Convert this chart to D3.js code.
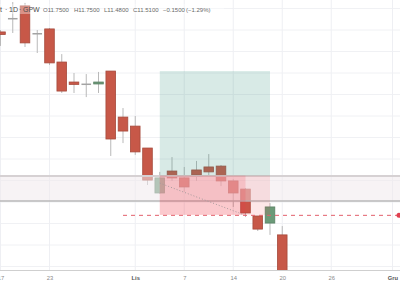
<!DOCTYPE html>
<html><head><meta charset="utf-8">
<script src="https://cdn.jsdelivr.net/npm/d3@7"></script>
<style>html,body{margin:0;padding:0;background:#fff;overflow:hidden}</style>
</head><body><svg id="c" width="400" height="284"></svg>
<script>
// ---- data ----
const dates = ["2025-10-17","2025-10-20","2025-10-21","2025-10-22","2025-10-23","2025-10-24","2025-10-27","2025-10-28","2025-10-29","2025-10-30","2025-10-31","2025-11-03","2025-11-04","2025-11-05","2025-11-06","2025-11-07","2025-11-10","2025-11-12","2025-11-13","2025-11-14","2025-11-17","2025-11-18","2025-11-19","2025-11-20"];
const opens  = [12.691,12.756,12.812,12.686,12.705,12.551,12.458,12.451,12.449,12.509,12.295,12.253,12.151,11.942,12.044,12.012,12.049,12.063,12.067,11.998,11.960,11.835,11.802,11.747];
const highs  = [12.700,12.830,12.826,12.700,12.709,12.588,12.500,12.495,12.505,12.509,12.337,12.300,12.151,12.040,12.109,12.063,12.091,12.123,12.072,12.007,11.965,11.835,11.895,11.788];
const lows   = [12.626,12.686,12.621,12.593,12.537,12.407,12.407,12.388,12.407,12.114,12.174,12.119,11.979,11.937,11.998,11.947,11.998,12.021,11.974,11.877,11.830,11.765,11.747,11.480];
const closes = [12.679,12.756,12.640,12.686,12.547,12.416,12.447,12.451,12.458,12.193,12.230,12.133,12.002,12.012,12.012,11.970,12.026,12.040,11.998,11.942,11.849,11.774,11.877,11.510];
const tickIdx    = [0,4,11,15,19,23,27,32];
const tickLabels = ["17","23","Lis","7","14","20","26","Gru"];
const gridPrices = [11.6,11.7,11.8,11.9,12.0,12.1,12.2,12.3,12.4,12.5,12.6,12.7,12.8];
const positionTool = {start:13, end:22, hitIndex:20, entry:12.023, stop:11.840, target:12.509};
const zoneBand = {top:12.023, bottom:11.905};
const exitPath = {fromIndex:13, fromPrice:11.988, toIndex:19.9, toPrice:11.840};
const alertLine = {fromIndex:10, toIndex:33, price:11.838};
const legendItems = ["t","·","1D","·","GPW","O11.7500","H11.7500","L11.4800","C11.5100","\u22120.1500","(\u22121.29%)"];

// ---- chart ----
const W = 400, H = 284, plotBottom = 270;
const svg = d3.select("#c");
const x = d3.scaleLinear().domain([0, 32]).range([0.5, 392.5]);
const y = d3.scaleLinear().domain([11.6, 12.8]).range([266.5, 8.5]);
const bw = 9.6;

svg.append("defs").append("clipPath").attr("id","plotClip")
  .append("rect").attr("x",0).attr("y",0).attr("width",W).attr("height",plotBottom);
const plot = svg.append("g").attr("clip-path","url(#plotClip)");

// grid
plot.selectAll(".hg").data(gridPrices).join("line")
  .attr("x1",0).attr("x2",W).attr("y1",d=>y(d)).attr("y2",d=>y(d))
  .attr("stroke","#f0f1f4").attr("stroke-width",1);
plot.selectAll(".vg").data(tickIdx).join("line")
  .attr("x1",d=>x(d)).attr("x2",d=>x(d)).attr("y1",0).attr("y2",plotBottom)
  .attr("stroke","#eeeff3").attr("stroke-width",1);

// candles
const candles = dates.map((d,i)=>({i, o:opens[i], h:highs[i], l:lows[i], c:closes[i]}));
const up = "#6b9a78", down = "#c75848", neutral = "#a3a3a3";
const col = d => d.c > d.o ? up : (d.c < d.o ? down : neutral);
const g = plot.append("g");
g.selectAll(".wick").data(candles).join("line")
  .attr("x1",d=>x(d.i)).attr("x2",d=>x(d.i))
  .attr("y1",d=>y(d.h)).attr("y2",d=>y(d.l))
  .attr("stroke","#b9b9b9").attr("stroke-width",1);
g.selectAll(".body").data(candles).join("rect")
  .attr("x",d=>x(d.i)-bw/2)
  .attr("y",d=>y(Math.max(d.o,d.c)))
  .attr("width",bw)
  .attr("height",d=>Math.max(1.5, Math.abs(y(d.o)-y(d.c))))
  .attr("fill",col)
  .attr("stroke",d=>d.c===d.o ? "none" : d3.color(col(d)).darker(0.5))
  .attr("stroke-width",0.8);

// horizontal band (rectangle drawing)
plot.append("rect").attr("x",0).attr("width",W)
  .attr("y",y(zoneBand.top)).attr("height",y(zoneBand.bottom)-y(zoneBand.top))
  .attr("fill","rgba(240,234,236,0.55)");
plot.append("line").attr("x1",0).attr("x2",W)
  .attr("y1",y(zoneBand.top)+0.5).attr("y2",y(zoneBand.top)+0.5)
  .attr("stroke","#d6d1d3").attr("stroke-width",2);
plot.append("line").attr("x1",0).attr("x2",W)
  .attr("y1",y(zoneBand.bottom)).attr("y2",y(zoneBand.bottom))
  .attr("stroke","#b9b9b9").attr("stroke-width",1.5);

// position tool
const p = positionTool;
plot.append("rect").attr("x",x(p.start)).attr("width",x(p.end)-x(p.start))
  .attr("y",y(p.target)).attr("height",y(p.entry)-y(p.target))
  .attr("fill","rgba(60,150,130,0.2)");
plot.append("rect").attr("x",x(p.start)).attr("width",x(p.end)-x(p.start))
  .attr("y",y(p.entry)).attr("height",y(p.stop)-y(p.entry))
  .attr("fill","rgba(242,54,69,0.12)");
plot.append("rect").attr("x",x(p.start)).attr("width",x(p.hitIndex)-x(p.start))
  .attr("y",y(p.entry)).attr("height",y(p.stop)-y(p.entry))
  .attr("fill","rgba(242,54,69,0.17)");
plot.append("line")
  .attr("x1",x(exitPath.fromIndex)).attr("y1",y(exitPath.fromPrice))
  .attr("x2",x(exitPath.toIndex)).attr("y2",y(exitPath.toPrice))
  .attr("stroke","#a89a9c").attr("stroke-width",1).attr("stroke-dasharray","1,2");

// alert / price line
plot.append("line")
  .attr("x1",x(alertLine.fromIndex)).attr("x2",W)
  .attr("y1",y(alertLine.price)).attr("y2",y(alertLine.price))
  .attr("stroke","#e2606c").attr("stroke-width",1).attr("stroke-dasharray","4,4");
plot.append("circle").attr("cx",W-1).attr("cy",y(alertLine.price)).attr("r",2.5).attr("fill","#e04050");

// time axis
svg.append("line").attr("x1",0).attr("x2",W).attr("y1",plotBottom+0.5).attr("y2",plotBottom+0.5)
  .attr("stroke","#cfcfcf").attr("stroke-width",1.2);
const ax = svg.append("g").attr("transform",`translate(0,${plotBottom})`)
  .call(d3.axisBottom(x).tickValues(tickIdx).tickFormat((d,i)=>tickLabels[i]).tickSize(0).tickPadding(6));
ax.select(".domain").remove();
ax.selectAll("text")
  .attr("font-family","Liberation Sans, Arial, sans-serif")
  .attr("font-size",5.8)
  .attr("fill",(d,i)=>/[A-Za-z]/.test(tickLabels[i]) ? "#555" : "#8a8a8a")
  .attr("font-weight",(d,i)=>/[A-Za-z]/.test(tickLabels[i]) ? "bold" : "normal");

// legend
const legendX = [0,5,9,19,23,43,74,104,133,163,186];
const leg = svg.append("g");
leg.append("rect").attr("x",0).attr("y",4).attr("width",224).attr("height",10).attr("fill","rgba(255,255,255,0.35)");
leg.selectAll("text").data(legendItems).join("text")
  .attr("x",(d,i)=>legendX[i]).attr("y",11.5)
  .attr("font-family","Liberation Sans, Arial, sans-serif")
  .attr("font-size",(d,i)=> i<5 ? 7 : 6)
  .attr("fill",(d,i)=> i<5 ? "#4a4a4a" : "#6a6a6a")
  .text(d=>d);
</script>
</body></html>
